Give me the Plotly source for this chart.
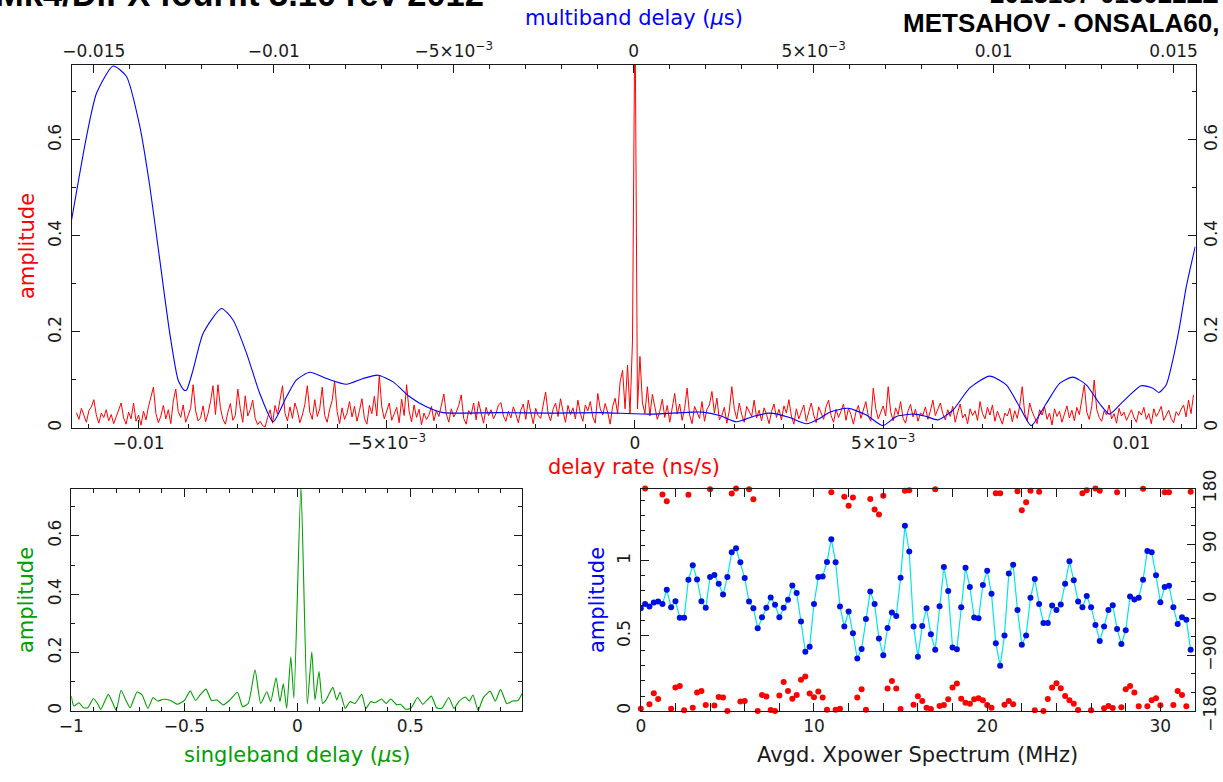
import numpy as np
import plotly.graph_objects as go

W, H = 1223, 782

# ---------------------------
# data
# ---------------------------
# delay-rate spectrum (red), uniform grid in ns/s, amplitude in units of 1e-3
dr_start = -0.01125
dr_step = 0.00005
dr_amp_milli = [
    32, 18, 41, 25, 12, 36, 44, 59, 27, 10, 31, 22, 38, 15, 28, 9, 24, 40, 52, 21, 8, 33, 19, 52, 14,
    27, 6, 35, 17, 44, 62, 85, 30, 11, 25, 47, 19, 38, 9, 56, 81, 34, 22, 48, 12, 29, 41, 90, 36, 15,
    21, 46, 13, 30, 55, 88, 28, 90, 42, 18, 8, 33, 51, 16, 26, 81, 40, 12, 67, 25, 38, 58, 20, 7, 14,
    5, 2, 22, 38, 10, 47, 29, 62, 88, 31, 15, 44, 20, 52, 36, 11, 27, 49, 88, 33, 18, 59, 24, 40, 85,
    26, 12, 39, 57, 98, 34, 9, 42, 18, 31, 55, 23, 45, 14, 36, 61, 20, 8, 47, 30, 66, 25, 110, 44, 19,
    37, 52, 16, 28, 43, 11, 60, 26, 90, 35, 13, 48, 22, 39, 7, 31, 18, 27, 45, 15, 36, 24, 50, 71, 29,
    12, 40, 23, 33, 47, 69, 20, 8, 36, 28, 52, 17, 55, 31, 10, 43, 26, 38, 19, 30, 48, 53, 25, 14, 35,
    21, 44, 29, 11, 37, 50, 18, 58, 33, 9, 41, 26, 20, 46, 75, 30, 15, 39, 52, 24, 61, 35, 12, 47, 28,
    42, 19, 58, 30, 14, 48, 36, 55, 23, 10, 72, 40, 27, 51, 33, 8, 45, 62, 30, 96, 120, 40, 131, 30, 183,
    900, 40, 149, 52, 30, 86, 25, 70, 44, 18, 35, 60, 22, 47, 12, 38, 72, 29, 50, 16, 41, 83, 27, 9, 45,
    33, 20, 55, 14, 39, 48, 76, 31, 62, 17, 26, 43, 10, 36, 86, 40, 19, 52, 28, 12, 45, 33, 24, 58, 21,
    37, 15, 42, 28, 9, 34, 50, 22, 39, 17, 46, 31, 59, 25, 8, 40, 19, 33, 48, 14, 36, 52, 27, 11, 44,
    30, 18, 45, 58, 26, 12, 39, 22, 35, 50, 16, 41, 28, 8, 33, 47, 20, 37, 55, 24, 14, 83, 40, 19, 31,
    46, 25, 86, 34, 15, 42, 28, 55, 20, 10, 36, 49, 23, 39, 14, 31, 27, 44, 18, 35, 58, 26, 41, 52, 30,
    17, 38, 24, 45, 12, 33, 50, 21, 29, 9, 40, 26, 36, 16, 55, 30, 19, 43, 27, 48, 14, 35, 22, 8, 31,
    25, 41, 13, 36, 20, 47, 86, 30, 15, 52, 34, 22, 9, 38, 27, 44, 18, 31, 6, 40, 24, 35, 12, 29, 46,
    21, 37, 15, 43, 28, 58, 90, 33, 18, 45, 100, 39, 22, 14, 36, 27, 48, 19, 30, 10, 41, 25, 33, 16, 29,
    38, 22, 12, 35, 27, 43, 18, 30, 9, 40, 24, 33, 45, 16, 28, 37, 20, 11, 34, 26, 39, 48, 23, 58, 30,
    69,
]

# multiband delay function (blue), x in microseconds
mbd_x = [-0.015625, -0.015203, -0.014925, -0.014464, -0.014092, -0.013722, -0.013444, -0.013167,
         -0.012889, -0.012658, -0.0125, -0.012425, -0.012242, -0.011964, -0.011453, -0.011131,
         -0.010758, -0.010389, -0.010019, -0.009647, -0.009369, -0.009, -0.008536, -0.007981,
         -0.007519, -0.007103, -0.006686, -0.006222, -0.005758, -0.005297, -0.004833, -0.003722,
         -0.002333, -0.000944, 0.000444, 0.001639, 0.001917, 0.002389, 0.002861, 0.003361,
         0.003778, 0.004333, 0.004797, 0.005167, 0.005444, 0.005953, 0.006464, 0.006925,
         0.007297, 0.007806, 0.008131, 0.008453, 0.008869, 0.009333, 0.009889, 0.010353,
         0.010722, 0.011047, 0.011464, 0.011833, 0.012203, 0.012575, 0.012944, 0.013222,
         0.013592, 0.014103, 0.014425, 0.014592, 0.014797, 0.014981, 0.015167, 0.015353, 0.015603]
mbd_amp = [0.43, 0.607, 0.697, 0.754, 0.732, 0.628, 0.503, 0.35, 0.197, 0.1,
           0.079, 0.079, 0.121, 0.197, 0.249, 0.225, 0.156, 0.072, 0.013, 0.065,
           0.1, 0.116, 0.103, 0.091, 0.103, 0.11, 0.096, 0.065, 0.044, 0.032,
           0.031, 0.032, 0.031, 0.032, 0.029, 0.033, 0.033, 0.026, 0.013, 0.025,
           0.031, 0.022, 0.009, 0.02, 0.033, 0.041, 0.027, 0.005, 0.024, 0.029,
           0.024, 0.017, 0.037, 0.083, 0.108, 0.09, 0.044, 0.005, 0.051, 0.093,
           0.106, 0.09, 0.051, 0.029, 0.055, 0.088, 0.083, 0.074, 0.09, 0.142,
           0.211, 0.294, 0.378]

# singleband delay function (green), x in microseconds
sbd_x = [-1.0, -0.989, -0.966, -0.946, -0.927, -0.902, -0.882, -0.870, -0.836, -0.817,
         -0.801, -0.780, -0.757, -0.740, -0.709, -0.687, -0.661, -0.638, -0.618, -0.592,
         -0.561, -0.531, -0.5, -0.474, -0.450, -0.430, -0.404, -0.379, -0.357, -0.327,
         -0.298, -0.265, -0.242, -0.217, -0.187, -0.162, -0.135, -0.118, -0.094, -0.077,
         -0.062, -0.047, -0.029, -0.015, 0.016, 0.044, 0.064, 0.078, 0.096, 0.112,
         0.127, 0.157, 0.174, 0.189, 0.212, 0.233, 0.255, 0.285, 0.303, 0.325,
         0.344, 0.373, 0.393, 0.413, 0.44, 0.456, 0.479, 0.502, 0.532, 0.555,
         0.593, 0.616, 0.639, 0.670, 0.693, 0.716, 0.743, 0.761, 0.777, 0.800,
         0.823, 0.853, 0.876, 0.899, 0.927, 0.953, 0.976, 0.994]
sbd_amp = [0.051, 0.017, 0.028, 0.011, 0.011, 0.043, 0.023, 0.005, 0.057, 0.028,
           0.002, 0.071, 0.034, 0.011, 0.065, 0.055, 0.009, 0.046, 0.034, 0.040,
           0.036, 0.023, 0.036, 0.068, 0.036, 0.055, 0.075, 0.035, 0.038, 0.021,
           0.038, 0.064, 0.015, 0.026, 0.141, 0.026, 0.066, 0.032, 0.114, 0.032,
           0.093, 0.009, 0.186, 0.044, 0.77, 0.024, 0.203, 0.038, 0.135, 0.026,
           0.038, 0.081, 0.038, 0.064, 0.009, 0.032, 0.026, 0.057, 0.009, 0.032,
           0.028, 0.041, 0.026, 0.041, 0.021, 0.023, 0.006, 0.009, 0.046, 0.023,
           0.051, 0.011, 0.009, 0.046, 0.009, 0.034, 0.048, 0.034, 0.055, 0.002,
           0.046, 0.068, 0.034, 0.074, 0.025, 0.034, 0.036, 0.059]

# averaged cross-power spectrum, 128 channels of 0.25 MHz
xp_step = 0.25
xp_amp = [0.685, 0.714, 0.696, 0.723, 0.73, 0.714, 0.808, 0.692, 0.732, 0.621,
          0.621, 0.875, 0.971, 0.877, 0.732, 0.688, 0.893, 0.906, 0.848, 0.777,
          0.893, 1.058, 1.085, 0.991, 0.886, 0.73, 0.685, 0.551, 0.625, 0.688,
          0.757, 0.708, 0.625, 0.688, 0.741, 0.837, 0.786, 0.596, 0.395, 0.429,
          0.714, 0.893, 0.897, 0.993, 1.145, 0.991, 0.696, 0.563, 0.663, 0.518,
          0.35, 0.413, 0.614, 0.797, 0.714, 0.484, 0.371, 0.554, 0.656, 0.634,
          0.888, 1.234, 1.063, 0.563, 0.362, 0.567, 0.685, 0.511, 0.408, 0.699,
          0.96, 0.799, 0.424, 0.411, 0.692, 0.955, 0.826, 0.623, 0.618, 0.839,
          0.935, 0.781, 0.451, 0.301, 0.504, 0.917, 0.975, 0.674, 0.442, 0.504,
          0.754, 0.879, 0.714, 0.587, 0.587, 0.703, 0.674, 0.71, 0.848, 0.998,
          0.871, 0.73, 0.692, 0.766, 0.692, 0.574, 0.467, 0.563, 0.674, 0.705,
          0.547, 0.446, 0.538, 0.763, 0.743, 0.754, 0.875, 1.067, 1.058, 0.904,
          0.725, 0.826, 0.835, 0.692, 0.58, 0.625, 0.609, 0.408]
xp_phase = [-176.2, 180, -169.2, -151.3, -160.5, 170.3, 159.5, -176.2, -142.1, -139.4,
            -178.9, 169.7, -174.6, -150.2, -147.5, -170.3, 178.9, -171.3, -157.3, -158.3,
            -180, 171.9, 180, -164.8, -163.8, 178.9, 162.7, -180, -154, -156.7,
            -178.4, -180, -155.1, -132.9, -147.5, -160, -154, -129.6, -124.2, -151.8,
            -157.8, -148.6, -158.3, -177.8, 174, -177.8, -176.2, 166.5, 151.9, 165.4,
            -158.3, -144.8, -177.8, 163.2, 145.9, 137.8, 168.1, -143.7, -131.3, -143.7,
            -176.8, 176.2, 177.3, -169.7, -156.2, -163.8, -174.6, -176.8, 178.9, -171.9,
            -170.3, -161, -142.1, -135.6, -160, -166.5, -168.1, -161, -159.4, -162.7,
            -170.3, -174.6, 172.4, 172.4, -169.7, -163.8, -169.2, 175.7, 144.8, 157.8,
            176.2, -178.9, 174.6, -180, -160.5, -142.1, -135.1, -143.2, -155.6, -162.7,
            -168.1, -178.4, 172.4, 177.3, -178.9, 180, 176.2, -175.7, -171.9, -175.1,
            174, -174, -144.8, -139.4, -150.2, -172.4, 179.5, -172.4, -162.7, -159.4,
            -170.8, 174, 174, -170.3, -147.5, -154, -172.4, 174.6]

title_left = "Mk4/DiFX fourfit 3.10 rev 2012"
title_right1 = "2013187-013022ZZ"
title_right2 = "METSAHOV - ONSALA60,"

# ---------------------------
# helpers
# ---------------------------
RED, BLUE, GREEN = "#ff0000", "#0000ff", "#00a000"
INK = "#1a1a1a"
FONT = "DejaVu Sans"


def xdom(a, b):
    return [a / W, b / W]


def ydom(top, bottom):
    return [(H - bottom) / H, (H - top) / H]


def axis(**kw):
    base = dict(showgrid=False, zeroline=False, showline=True, linecolor=INK, linewidth=1,
                automargin=False, ticks="inside", ticklen=8, tickwidth=1, tickcolor=INK,
                tickfont=dict(family=FONT, size=17, color=INK))
    base.update(kw)
    return base


def yaxis(**kw):
    # left labels sit a bit further out than the right ones in the original
    kw.setdefault("ticklabelstandoff", 0 if kw.get("side") == "right" else 3)
    kw.setdefault("tickangle", -90)
    return axis(**kw)


def minor(step):
    return dict(dtick=step, ticklen=4, tickcolor=INK, ticks="inside")


def label(text, px, py, color, angle=0, size=21):
    return dict(text=text, x=px / W, y=1 - py / H, xref="paper", yref="paper",
                xanchor="center", yanchor="middle", showarrow=False, textangle=angle,
                font=dict(family=FONT, size=size, color=color))


def headline(text, px, py, anchor, size):
    return dict(text="<b>" + text + "</b>", x=px / W, y=1 - py / H, xref="paper", yref="paper",
                xanchor=anchor, yanchor="middle", showarrow=False,
                font=dict(family="Liberation Sans", size=size, color="black"))


minus = "\u2212"
e3 = "5\u00d710<sup>" + minus + "3</sup>"
dr_x = dr_start + dr_step * np.arange(len(dr_amp_milli))
dr_amp = np.array(dr_amp_milli) * 1e-3
xp_freq = xp_step * np.arange(len(xp_amp))

fig = go.Figure()
fig.add_trace(go.Scatter(x=dr_x, y=dr_amp, mode="lines", line=dict(color=RED, width=1),
                         xaxis="x", yaxis="y"))
fig.add_trace(go.Scatter(x=mbd_x, y=mbd_amp, mode="lines",
                         line=dict(color=BLUE, width=1.1, shape="spline", smoothing=0.6),
                         xaxis="x2", yaxis="y"))
fig.add_trace(go.Scatter(x=[0], y=[None], mode="lines", xaxis="x", yaxis="y2"))
fig.add_trace(go.Scatter(x=sbd_x, y=sbd_amp, mode="lines",
                         line=dict(color=GREEN, width=1.1, shape="spline", smoothing=0.5),
                         xaxis="x3", yaxis="y3"))
fig.add_trace(go.Scatter(x=xp_freq, y=xp_amp, mode="lines+markers",
                         line=dict(color="#00e5ee", width=1.2),
                         marker=dict(color="#0010e0", size=6),
                         xaxis="x4", yaxis="y4"))
fig.add_trace(go.Scatter(x=xp_freq, y=xp_phase, mode="markers",
                         marker=dict(color=RED, size=6), cliponaxis=False,
                         xaxis="x4", yaxis="y5"))

top_x, top_y = xdom(71.5, 1195.5), ydom(65, 428)
bl_x, bot_y = xdom(71.3, 522), ydom(488.5, 711)
br_x = xdom(640.8, 1195)

fig.update_layout(
    width=W, height=H, autosize=False, showlegend=False,
    margin=dict(l=0, r=0, t=0, b=0, pad=0),
    paper_bgcolor="white", plot_bgcolor="white",
    # top panel
    xaxis=axis(domain=top_x, anchor="y", range=[-0.01135, 0.01129], mirror=True,
               tickvals=[-0.01, -0.005, 0, 0.005, 0.01],
               ticktext=[minus + "0.01", minus + e3, "0", e3, "0.01"], minor=minor(0.001)),
    xaxis2=axis(domain=top_x, anchor="y", overlaying="x", side="top",
                range=[-0.01562, 0.01561],
                tickvals=[-0.015, -0.01, -0.005, 0, 0.005, 0.01, 0.015],
                ticktext=[minus + "0.015", minus + "0.01", minus + e3, "0", e3, "0.01", "0.015"],
                minor=minor(0.001)),
    yaxis=yaxis(domain=top_y, anchor="x", range=[0, 0.756], mirror=True,
                tickvals=[0, 0.2, 0.4, 0.6], minor=minor(0.1)),
    yaxis2=yaxis(domain=top_y, anchor="x", overlaying="y", side="right", range=[0, 0.756],
                 tickvals=[0, 0.2, 0.4, 0.6], minor=minor(0.1)),
    # singleband delay panel
    xaxis3=axis(domain=bl_x, anchor="y3", range=[-1, 0.994], mirror="allticks",
                tickvals=[-1, -0.5, 0, 0.5], ticktext=[minus + "1", minus + "0.5", "0", "0.5"],
                minor=minor(0.1)),
    yaxis3=yaxis(domain=bot_y, anchor="x3", range=[0, 0.762], mirror="allticks",
                 tickvals=[0, 0.2, 0.4, 0.6], minor=minor(0.1)),
    # cross-power spectrum panel
    xaxis4=axis(domain=br_x, anchor="y4", range=[0, 32], mirror="allticks",
                tickvals=[0, 10, 20, 30], minor=minor(2)),
    yaxis4=yaxis(domain=bot_y, anchor="x4", range=[0, 1.483], mirror=True,
                 tickvals=[0, 0.5, 1], minor=minor(0.1)),
    yaxis5=yaxis(domain=bot_y, anchor="x4", overlaying="y4", side="right", range=[-180, 180],
                 tickvals=[-180, -90, 0, 90, 180],
                 ticktext=[minus + "180", minus + "90", "0", "90", "180"], minor=minor(30)),
    annotations=[
        label("multiband delay (<i>\u03bc</i>s)", 634, 18, BLUE),
        label("amplitude", 27, 246, RED, angle=-90),
        label("delay rate (ns/s)", 634, 467, RED),
        label("amplitude", 26, 600, GREEN, angle=-90),
        label("singleband delay (<i>\u03bc</i>s)", 297, 755, GREEN),
        label("amplitude", 597, 600, BLUE, angle=-90),
        label("Avgd. Xpower Spectrum (MHz)", 917, 755, INK),
        headline(title_left, -7, -6, "left", 34.5),
        headline(title_right1, 1221, -6, "right", 26),
        headline(title_right2, 1221, 23, "right", 26),
    ],
)

fig.write_html("out.html", config={"displayModeBar": False},
               post_script="document.body.style.margin='0';")
